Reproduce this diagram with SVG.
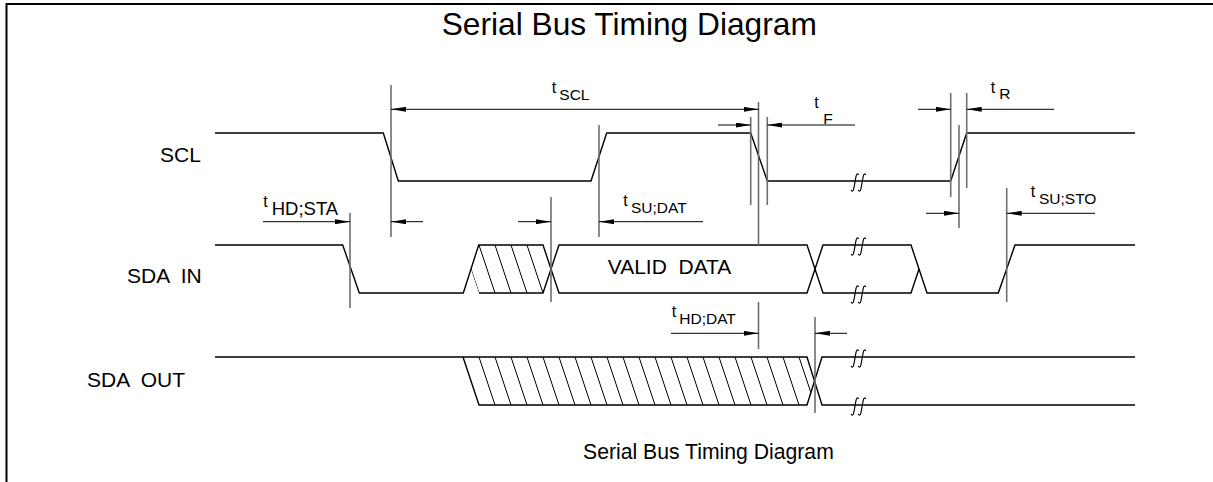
<svg xmlns="http://www.w3.org/2000/svg" width="1213" height="482" viewBox="0 0 1213 482">
<style>
  text { font-family: "Liberation Sans", Arial, sans-serif; fill: #000; white-space: pre; }
  .sig { fill: none; stroke: #000; stroke-width: 1.4; stroke-linejoin: miter; }
  .hatch { fill: none; stroke: #000; stroke-width: 1; }
  .tick { fill: none; stroke: #6e6e6e; stroke-width: 1.6; }
  .dim { fill: none; stroke: #000; stroke-width: 1; }
  .lbl { font-size: 21px; }
  .t { font-size: 16px; }
  .sub { font-size: 15.5px; }
  .brk { fill: none; stroke: #000; stroke-width: 1.2; }
</style>
<defs>
  <marker id="ah" viewBox="0 0 15 5" refX="15" refY="2.5" markerWidth="15" markerHeight="5" markerUnits="userSpaceOnUse" orient="auto-start-reverse">
    <path d="M0,0 L15,2.5 L0,5 Z" fill="#000"/>
  </marker>
  <path id="brk1" d="M-3.8,7.5 Q-1.8,10.5 -0.9,5 L0.9,-5 Q1.8,-10.5 3.8,-7.5"/>
  <g id="brk">
    <use href="#brk1" x="-3.6"/>
    <use href="#brk1" x="3.6"/>
  </g>
  <clipPath id="clipIn">
    <polygon points="471,269 479,245 543,245 551,269 543,293 479,293"/>
  </clipPath>
  <clipPath id="clipOut">
    <polygon points="463,357 807,357 814.5,381 807,405 479,405"/>
  </clipPath>
</defs>

<rect width="1213" height="482" fill="#fff"/>
<polyline points="6.5,482 6.5,4 1213,4" fill="none" stroke="#000" stroke-width="2"/>

<text x="441.7" y="35" style="font-size:31.7px">Serial Bus Timing Diagram</text>
<text x="583" y="459" style="font-size:21.2px">Serial Bus Timing Diagram</text>

<g id="scl">
  <text class="lbl" x="160" y="162">SCL</text>
  <polyline class="sig" points="215,133 383.3,133 398.3,181 591,181 606.7,133 750.7,133 767.3,181 950.7,181 966.7,133 1135,133"/>
  <use href="#brk" x="858.5" y="182.5" class="brk"/>
</g>

<g id="sda-in">
  <text class="lbl" x="127" y="283">SDA  IN</text>
  <polyline class="sig" points="215,245 342.7,245 359.3,293 463.3,293 478.7,245 543,245 559,293 807,293 823,245 911,245 927,293 998.3,293 1015,245 1135,245"/>
  <polyline class="sig" points="479,293 543,293 559,245 807,245 823,293 911,293 919,269"/>
  <g clip-path="url(#clipIn)" class="hatch">
    <line x1="463" y1="245" x2="479" y2="293"/>
    <line x1="479" y1="245" x2="495" y2="293"/>
    <line x1="495" y1="245" x2="511" y2="293"/>
    <line x1="511" y1="245" x2="527" y2="293"/>
    <line x1="527" y1="245" x2="543" y2="293"/>
  </g>
  <text class="lbl" x="607.7" y="274">VALID  DATA</text>
  <use href="#brk" x="858.5" y="246.5" class="brk"/>
  <use href="#brk" x="858.5" y="294.5" class="brk"/>
</g>

<g id="sda-out">
  <text class="lbl" x="87" y="386.7">SDA  OUT</text>
  <polyline class="sig" points="215,357 807,357 822,405 1135,405"/>
  <polyline class="sig" points="463,357 479,405 807,405 822,357 1135,357"/>
  <g clip-path="url(#clipOut)" class="hatch">
    <line x1="479" y1="357" x2="495" y2="405"/>
    <line x1="495" y1="357" x2="511" y2="405"/>
    <line x1="511" y1="357" x2="527" y2="405"/>
    <line x1="527" y1="357" x2="543" y2="405"/>
    <line x1="543" y1="357" x2="559" y2="405"/>
    <line x1="559" y1="357" x2="575" y2="405"/>
    <line x1="575" y1="357" x2="591" y2="405"/>
    <line x1="591" y1="357" x2="607" y2="405"/>
    <line x1="607" y1="357" x2="623" y2="405"/>
    <line x1="623" y1="357" x2="639" y2="405"/>
    <line x1="639" y1="357" x2="655" y2="405"/>
    <line x1="655" y1="357" x2="671" y2="405"/>
    <line x1="671" y1="357" x2="687" y2="405"/>
    <line x1="687" y1="357" x2="703" y2="405"/>
    <line x1="703" y1="357" x2="719" y2="405"/>
    <line x1="719" y1="357" x2="735" y2="405"/>
    <line x1="735" y1="357" x2="751" y2="405"/>
    <line x1="751" y1="357" x2="767" y2="405"/>
    <line x1="767" y1="357" x2="783" y2="405"/>
    <line x1="783" y1="357" x2="799" y2="405"/>
    <line x1="799" y1="357" x2="815" y2="405"/>
  </g>
  <use href="#brk" x="858.5" y="358.5" class="brk"/>
  <use href="#brk" x="858.5" y="406.5" class="brk"/>
</g>

<g id="connectors">
  <g class="tick">
    <line x1="391" y1="85" x2="391" y2="237"/>
    <line x1="350" y1="213" x2="350" y2="308"/>
    <line x1="551" y1="197" x2="551" y2="302"/>
    <line x1="599" y1="125" x2="599" y2="237"/>
    <line x1="758.5" y1="102" x2="758.5" y2="245"/>
    <line x1="758.5" y1="302" x2="758.5" y2="349"/>
    <line x1="750.7" y1="117" x2="750.7" y2="205"/>
    <line x1="767.3" y1="117" x2="767.3" y2="205"/>
    <line x1="950.7" y1="93" x2="950.7" y2="197"/>
    <line x1="966.7" y1="93" x2="966.7" y2="188"/>
    <line x1="959" y1="125" x2="959" y2="228"/>
    <line x1="1006.7" y1="188" x2="1006.7" y2="302"/>
    <line x1="815" y1="317" x2="815" y2="413"/>
  </g>
  <g class="dim">
    <line x1="391" y1="109.3" x2="758.5" y2="109.3" marker-start="url(#ah)" marker-end="url(#ah)"/>
    <line x1="263" y1="221.7" x2="350" y2="221.7" marker-end="url(#ah)"/>
    <line x1="423" y1="221.7" x2="391" y2="221.7" marker-end="url(#ah)"/>
    <line x1="518" y1="221.7" x2="551" y2="221.7" marker-end="url(#ah)"/>
    <line x1="703" y1="221.7" x2="599" y2="221.7" marker-end="url(#ah)"/>
    <line x1="718" y1="125" x2="750.7" y2="125" marker-end="url(#ah)"/>
    <line x1="855" y1="125" x2="767.3" y2="125" marker-end="url(#ah)"/>
    <line x1="918" y1="109.3" x2="950.7" y2="109.3" marker-end="url(#ah)"/>
    <line x1="1054" y1="109.3" x2="966.7" y2="109.3" marker-end="url(#ah)"/>
    <line x1="926" y1="213.3" x2="959" y2="213.3" marker-end="url(#ah)"/>
    <line x1="1095" y1="213.3" x2="1006.7" y2="213.3" marker-end="url(#ah)"/>
    <line x1="671" y1="333.3" x2="758.5" y2="333.3" marker-end="url(#ah)"/>
    <line x1="847" y1="333.3" x2="815" y2="333.3" marker-end="url(#ah)"/>
  </g>
  <g id="timing-labels">
    <text><tspan class="t" x="263.3" y="207">t</tspan><tspan x="271.7" y="215" style="font-size:18.5px">HD;STA</tspan></text>
    <text><tspan class="t" x="551.7" y="93.3">t</tspan><tspan class="sub" x="559.3" y="100">SCL</tspan></text>
    <text><tspan class="t" x="623.3" y="206">t</tspan><tspan class="sub" x="631" y="212.7">SU;DAT</tspan></text>
    <text><tspan class="t" x="671.7" y="317">t</tspan><tspan class="sub" x="679.3" y="324">HD;DAT</tspan></text>
    <text><tspan class="t" x="1030.7" y="197">t</tspan><tspan class="sub" x="1039" y="204">SU;STO</tspan></text>
    <text><tspan class="t" x="990.7" y="93">t</tspan><tspan class="sub" x="999.3" y="99.3">R</tspan></text>
    <text><tspan class="t" x="814.3" y="108.3">t</tspan><tspan class="sub" x="823.3" y="124.3">F</tspan></text>
  </g>
</g>
</svg>
